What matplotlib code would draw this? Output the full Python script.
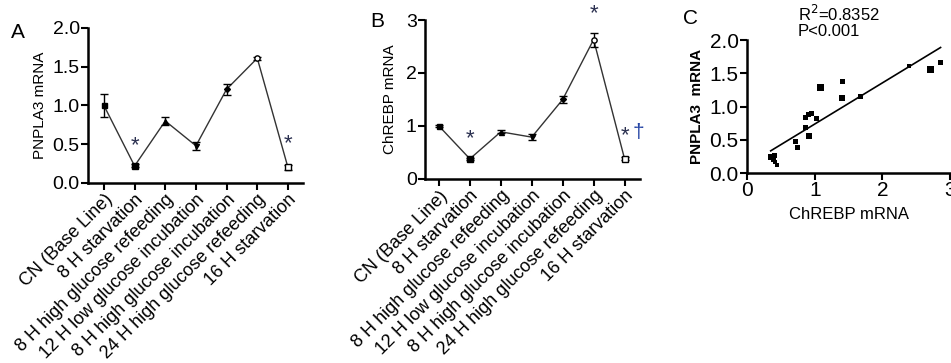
import numpy as np
import matplotlib
matplotlib.use("Agg")
import matplotlib.pyplot as plt

plt.rcParams['font.family'] = ['Liberation Sans', 'DejaVu Sans']

conditions = ["CN (Base Line)", "8 H starvation", "8 H high glucose refeeding",
              "12 H low glucose incubation", "8 H high glucose incubation",
              "24 H high glucose refeeding", "16 H starvation"]

pnpla3 = [1.00, 0.22, 0.80, 0.48, 1.21, 1.61, 0.20]
pnpla3_err = [0.15, 0.02, 0.05, 0.05, 0.07, 0.02, 0.03]

chrebp = [1.00, 0.38, 0.89, 0.79, 1.50, 2.63, 0.38]
chrebp_err = [0.02, 0.02, 0.03, 0.06, 0.06, 0.13, 0.03]

# scatter of individual samples (panel C)
sc_chrebp = [0.35, 0.41, 0.39, 0.41, 0.45, 0.71, 0.75, 0.86, 0.86, 0.91,
             0.96, 0.92, 1.03, 1.08, 1.41, 1.41, 1.67, 2.39, 2.71, 2.86]
sc_pnpla3 = [0.235, 0.26, 0.20, 0.16, 0.115, 0.47, 0.385, 0.69, 0.84, 0.875,
             0.90, 0.55, 0.825, 1.29, 1.37, 1.135, 1.15, 1.615, 1.56, 1.665]
sc_px = [6, 5, 5, 4, 4, 5, 5, 5, 5, 5, 5, 6, 5, 7, 5, 6, 5, 4, 7, 5]

markers = ['s', 's', '^', 'v', 'D', 'o', 's']
msizes = [3.6, 5.0, 3.6, 3.6, 3.0, 3.8, 4.3]
filled = [True, True, True, True, True, False, False]

line_col = '#333333'
star_col = '#2b3050'
dag_col = '#2545a5'

fig = plt.figure(figsize=(9.51, 3.63), dpi=100)


def style_axes(ax, ysize=14):
    for s in ['top', 'right']:
        ax.spines[s].set_visible(False)
    for s in ['left', 'bottom']:
        ax.spines[s].set_linewidth(1.8)
    ax.tick_params(width=1.5, length=5, pad=1)
    ax.tick_params(axis='y', labelsize=ysize)


def time_course(ax, vals, errs):
    x = np.arange(len(vals))
    ax.plot(x, vals, color=line_col, lw=1.0, zorder=2)
    ax.errorbar(x, vals, yerr=errs, fmt='none', ecolor='black',
                elinewidth=1.0, capsize=3, capthick=1.0, zorder=3)
    for i in range(len(vals)):
        ax.plot(x[i], vals[i], marker=markers[i], ms=msizes[i], color='black',
                mfc='black' if filled[i] else 'white', mew=1.0, zorder=4)
    ax.set_xticks(x)
    ax.set_xticklabels(conditions, rotation=45, ha='right',
                       rotation_mode='anchor', fontsize=13)


# Panel A
axA = fig.add_axes([0.0925, 0.4959, 0.2261, 0.4270])
time_course(axA, pnpla3, pnpla3_err)
style_axes(axA)
axA.set_xlim(-0.52, 6.49)
axA.set_ylim(0, 2.0)
axA.set_yticks([0, 0.5, 1.0, 1.5, 2.0])
axA.set_yticklabels(['0.0', '0.5', '1.0', '1.5', '2.0'])
axA.set_ylabel('PNPLA3 mRNA', fontsize=11, labelpad=4)
axA.text(1, pnpla3[1] + 0.26, '*', color=star_col, fontsize=16, ha='center', va='center')
axA.text(6, pnpla3[6] + 0.31, '*', color=star_col, fontsize=16, ha='center', va='center')
fig.text(0.011, 0.895, 'A', fontsize=15)

# Panel B
axB = fig.add_axes([0.4469, 0.5069, 0.2261, 0.4380])
time_course(axB, chrebp, chrebp_err)
style_axes(axB)
axB.set_xlim(-0.45, 6.5)
axB.set_ylim(0, 3)
axB.set_yticks([0, 1, 2, 3])
axB.set_ylabel('ChREBP mRNA', fontsize=11, labelpad=6)
axB.text(1, chrebp[1] + 0.38, '*', color=star_col, fontsize=16, ha='center', va='center')
axB.text(5, chrebp[5] + 0.48, '*', color=star_col, fontsize=16, ha='center', va='center')
axB.text(6, chrebp[6] + 0.43, '*', color=star_col, fontsize=16, ha='center', va='center')
axB.text(6.45, chrebp[6] + 0.5, '\u2020', color=dag_col, fontsize=15, ha='center', va='center')
fig.text(0.389, 0.925, 'B', fontsize=15)

# Panel C
axC = fig.add_axes([0.7855, 0.5234, 0.2135, 0.3664])
axC.scatter(sc_chrebp, sc_pnpla3, marker='s', s=(np.array(sc_px) / 1.39) ** 2,
            color='black', linewidths=0, zorder=3)
m, c = np.polyfit(sc_chrebp, sc_pnpla3, 1)
fx = np.array([min(sc_chrebp), max(sc_chrebp)])
axC.plot(fx, m * fx + c, color='black', lw=1.2)
style_axes(axC, ysize=15)
axC.set_xlim(0, 3)
axC.set_ylim(0, 2.0)
axC.set_xticks([0, 1, 2, 3])
axC.set_yticks([0, 0.5, 1.0, 1.5, 2.0])
axC.set_yticklabels(['0.0', '0.5', '1.0', '1.5', '2.0'])
axC.tick_params(axis='x', labelsize=15)
axC.set_ylabel('PNPLA3  mRNA', fontsize=11, fontweight='bold', labelpad=4)
axC.set_xlabel('ChREBP mRNA', fontsize=12, labelpad=5)
fig.text(0.7185, 0.935, 'C', fontsize=15)
fig.text(0.839, 0.99, 'R$^2$=0.8352\nP<0.001', fontsize=12, linespacing=1.05,
         va='top')

fig.savefig('out.png', dpi=100)
